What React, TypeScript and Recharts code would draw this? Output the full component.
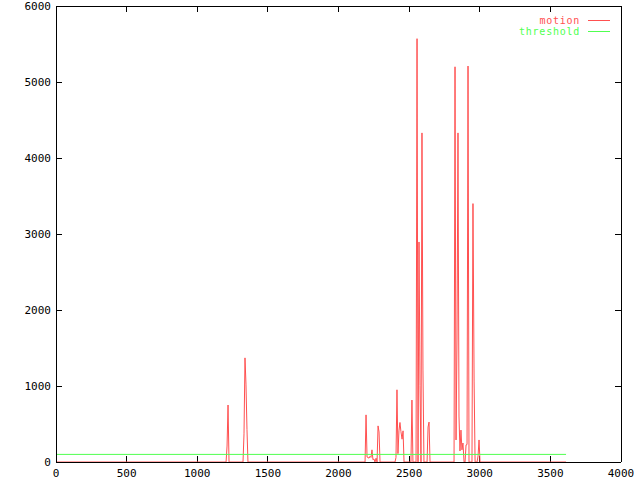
import React from 'react';
import { LineChart, Line, XAxis, YAxis, Legend, ReferenceLine } from 'recharts';

// motion samples (time, value); zeros bracket each burst
const MOTION_T = [
  0, 1204, 1211, 1218, 1225,
  1324, 1331, 1338, 1345, 1352, 1359,
  2188, 2195, 2202, 2209, 2216, 2223, 2230, 2237, 2244, 2251, 2258, 2266, 2273, 2280, 2287, 2294,
  2400, 2407, 2414, 2421, 2428, 2435, 2442, 2450, 2457, 2464,
  2513, 2520, 2527,
  2549, 2556, 2563, 2570, 2577, 2584, 2591, 2598, 2605,
  2627, 2634, 2641, 2648,
  2818, 2825, 2832, 2839, 2846, 2853, 2860, 2867, 2874, 2881, 2889, 2896, 2903, 2910, 2917, 2924,
  2945, 2952, 2960, 2967,
  2981, 2988, 2995, 3002,
  3611,
];
const MOTION_V = [
  0, 0, 210, 750, 0,
  0, 370, 1370, 1025, 430, 0,
  0, 620, 65, 60, 50, 75, 60, 160, 30, 40, 0, 50, 0, 475, 395, 0,
  0, 60, 950, 110, 410, 520, 400, 300, 410, 0,
  0, 815, 0,
  0, 5570, 0, 2895, 1010, 0, 4330, 1210, 0,
  0, 460, 525, 0,
  0, 5200, 290, 1605, 4330, 605, 145, 420, 160, 250, 0, 0, 225, 230, 5210, 0,
  0, 3400, 1065, 0,
  0, 80, 290, 0,
  0,
];

const THRESHOLD_T = [0, 3611];
const THRESHOLD_V = [100, 100];

const X_TICKS = [0, 500, 1000, 1500, 2000, 2500, 3000, 3500, 4000];
const Y_TICKS = [0, 1000, 2000, 3000, 4000, 5000, 6000];
const X_MAX = 4000;
const Y_MAX = 6000;

const motionData = MOTION_T.map((t, i) => ({ t, v: MOTION_V[i] }));
const thresholdData = THRESHOLD_T.map((t, i) => ({ t, v: THRESHOLD_V[i] }));

const FONT = '"DejaVu Sans Mono", monospace';
const RED = '#ff5050';
const GREEN = '#50ff50';
const TICK_LEN = 6;
const TINY = 0.001; // zero is treated as "unset" by recharts

const W = 640;
const H = 480;
const MARGIN = { top: 5, right: 18, bottom: 0, left: 6 };
const LEFT_W = 50;
const RIGHT_W = 1;
const TOP_H = 1;
const BOTTOM_H = 18;
const PLOT_W = W - MARGIN.left - MARGIN.right - LEFT_W - RIGHT_W;
const PLOT_H = H - MARGIN.top - MARGIN.bottom - TOP_H - BOTTOM_H;
// tick length turned into data units so the inward ticks stay 6px long
const TICK_DX = (TICK_LEN * X_MAX) / PLOT_W;
const TICK_DY = (TICK_LEN * Y_MAX) / PLOT_H;

const BottomLabel = ({ x, y, payload }: any) => (
  <text x={x} y={y + 15} textAnchor="middle" fontFamily={FONT} fontSize={11} fill="#000">
    {payload.value}
  </text>
);

const LeftLabel = ({ x, y, payload }: any) => (
  <text x={x - 5} y={y + 4} textAnchor="end" fontFamily={FONT} fontSize={11} fill="#000">
    {payload.value}
  </text>
);

const AXIS_LINE = { stroke: '#000', shapeRendering: 'crispEdges' };

const renderLegend = ({ payload }: any) => (
  <div style={{ fontFamily: FONT, fontSize: 10, letterSpacing: '0.75px', lineHeight: '11px' }}>
    {payload.map((e: any) => (
      <div key={e.value} style={{ display: 'flex', alignItems: 'center', justifyContent: 'flex-end', height: 11 }}>
        <span style={{ color: e.color }}>{e.value}</span>
        <span style={{ display: 'inline-block', width: 22, height: 1, background: e.color, marginLeft: 8 }} />
      </div>
    ))}
  </div>
);

const tickSeg = (key: string, a: { x: number; y: number }, b: { x: number; y: number }) => (
  <ReferenceLine
    key={key}
    segment={[a, b]}
    stroke="#000"
    strokeWidth={1}
    shapeRendering="crispEdges"
    ifOverflow="visible"
  />
);

const App: React.FC = () => {
  return (
    <div style={{ position: 'absolute', left: 0, top: 0, width: W, height: H, background: '#fff' }}>
      <LineChart width={W} height={H} margin={MARGIN}>
        <XAxis
          dataKey="t"
          type="number"
          domain={[0, X_MAX]}
          ticks={X_TICKS}
          allowDataOverflow
          height={BOTTOM_H}
          tickSize={TINY}
          tickMargin={TINY}
          tickLine={false}
          axisLine={AXIS_LINE}
          tick={<BottomLabel />}
          interval={0}
        />
        <XAxis
          xAxisId="top"
          orientation="top"
          dataKey="t"
          type="number"
          domain={[0, X_MAX]}
          allowDataOverflow
          height={TOP_H}
          tickLine={false}
          axisLine={AXIS_LINE}
          tick={false}
        />
        <YAxis
          type="number"
          domain={[0, Y_MAX]}
          ticks={Y_TICKS}
          allowDataOverflow
          width={LEFT_W}
          tickSize={TINY}
          tickMargin={TINY}
          tickLine={false}
          axisLine={AXIS_LINE}
          tick={<LeftLabel />}
          interval={0}
        />
        <YAxis
          yAxisId="right"
          orientation="right"
          type="number"
          domain={[0, Y_MAX]}
          allowDataOverflow
          width={RIGHT_W}
          tickLine={false}
          axisLine={AXIS_LINE}
          tick={false}
        />
        {X_TICKS.map((v) => tickSeg(`b${v}`, { x: v, y: 0 }, { x: v, y: TICK_DY }))}
        {X_TICKS.map((v) => tickSeg(`t${v}`, { x: v, y: Y_MAX }, { x: v, y: Y_MAX - TICK_DY }))}
        {Y_TICKS.map((v) => tickSeg(`l${v}`, { x: 0, y: v }, { x: TICK_DX, y: v }))}
        {Y_TICKS.map((v) => tickSeg(`r${v}`, { x: X_MAX, y: v }, { x: X_MAX - TICK_DX, y: v }))}
        <Legend
          layout="vertical"
          align="center"
          verticalAlign="middle"
          wrapperStyle={{ top: 15, left: 490, width: 120 }}
          content={renderLegend}
        />
        <Line
          data={motionData}
          dataKey="v"
          name="motion"
          type="linear"
          stroke={RED}
          strokeWidth={1}
          dot={false}
          activeDot={false}
          isAnimationActive={false}
        />
        <Line
          data={thresholdData}
          dataKey="v"
          name="threshold"
          type="linear"
          stroke={GREEN}
          strokeWidth={1}
          dot={false}
          activeDot={false}
          isAnimationActive={false}
        />
      </LineChart>
    </div>
  );
};

export default App;
